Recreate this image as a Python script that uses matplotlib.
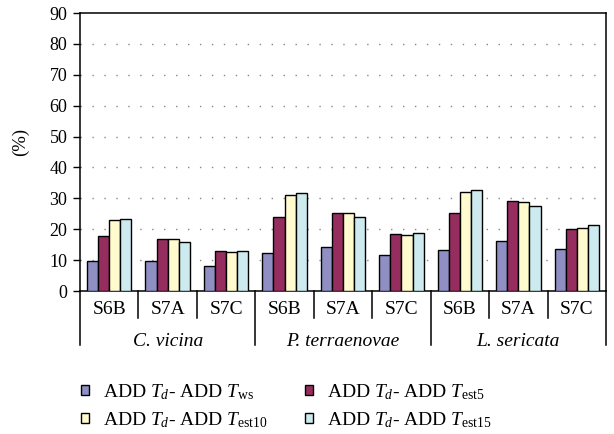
import numpy as np
import matplotlib
matplotlib.use('Agg')
import matplotlib.pyplot as plt
from matplotlib.patches import Patch

plt.rcParams['font.family'] = 'Liberation Serif'
plt.rcParams['mathtext.fontset'] = 'custom'
plt.rcParams['mathtext.rm'] = 'Liberation Serif'
plt.rcParams['mathtext.it'] = 'Liberation Serif:italic'

# data (%)
species = ['C. vicina', 'P. terraenovae', 'L. sericata']
sites = ['S6B', 'S7A', 'S7C']
ws = [9.6, 9.6, 8.0, 12.4, 14.3, 11.8, 13.4, 16.3, 13.7]
est5 = [17.9, 16.9, 13.1, 23.8, 25.4, 18.4, 25.2, 29.2, 20.0]
est10 = [23.0, 16.9, 12.7, 31.2, 25.1, 18.1, 32.1, 28.7, 20.4]
est15 = [23.3, 16.0, 13.1, 31.8, 23.8, 18.7, 32.8, 27.5, 21.3]
series_labels = [r'ADD $T_d$- ADD $T_{\mathrm{ws}}$',
                 r'ADD $T_d$- ADD $T_{\mathrm{est5}}$',
                 r'ADD $T_d$- ADD $T_{\mathrm{est10}}$',
                 r'ADD $T_d$- ADD $T_{\mathrm{est15}}$']
colors = ['#8f8fc4', '#962d5f', '#fffbcf', '#cdebef']

fig = plt.figure(figsize=(6.14, 4.34), dpi=100)
ax = fig.add_axes([80/614, 1-291/434, 526/614, 278/434])

n = len(ws)
x = np.arange(n) + 0.5
w = 0.19
allvals = [ws, est5, est10, est15]
for k in range(4):
    ax.bar(x + (k-1.5)*w, allvals[k], width=w, color=colors[k],
           edgecolor='black', linewidth=1.0, zorder=3)

ax.set_xlim(0, n)
ax.set_ylim(0, 90)
ax.set_yticks(np.arange(0, 91, 10))
ax.set_xticks([])
ax.tick_params(axis='y', direction='out', length=5, width=1, pad=4, labelsize=13)
for s in ax.spines.values():
    s.set_linewidth(1.1)
    s.set_color('black')

# dotted grid
for yv in range(10, 90, 10):
    ax.axhline(yv, color='#888888', linewidth=1.0, linestyle=(0, (1, 7.6)), zorder=1)

ax.set_ylabel('(%)', fontsize=13.5)
ax.yaxis.set_label_coords(-0.096, 0.536)

# category axis below
tr = ax.get_xaxis_transform()
for i in range(n + 1):
    bottom = -0.194 if i % 3 == 0 else -0.097
    ax.plot([i, i], [0, bottom], color='black', linewidth=1.1, transform=tr, clip_on=False)
for i in range(n):
    ax.text(x[i], -0.066, sites[i % 3], transform=tr, ha='center', va='center', fontsize=14)
for j, sp in enumerate(species):
    ax.text(3*j + 1.5, -0.18, sp, transform=tr, ha='center', va='center',
            fontsize=14, style='italic')

handles = [Patch(facecolor=c, edgecolor='black', linewidth=1.0) for c in colors]
order = [0, 2, 1, 3]
fig.legend([handles[i] for i in order], [series_labels[i] for i in order],
           ncol=2, loc='upper left', bbox_to_anchor=(81/614, 1-382/434),
           frameon=False, fontsize=14, handlelength=0.4, handleheight=0.4,
           handletextpad=0.75, columnspacing=1.9, labelspacing=0.42, borderpad=0,
           borderaxespad=0)

fig.savefig('out.png', dpi=100)
